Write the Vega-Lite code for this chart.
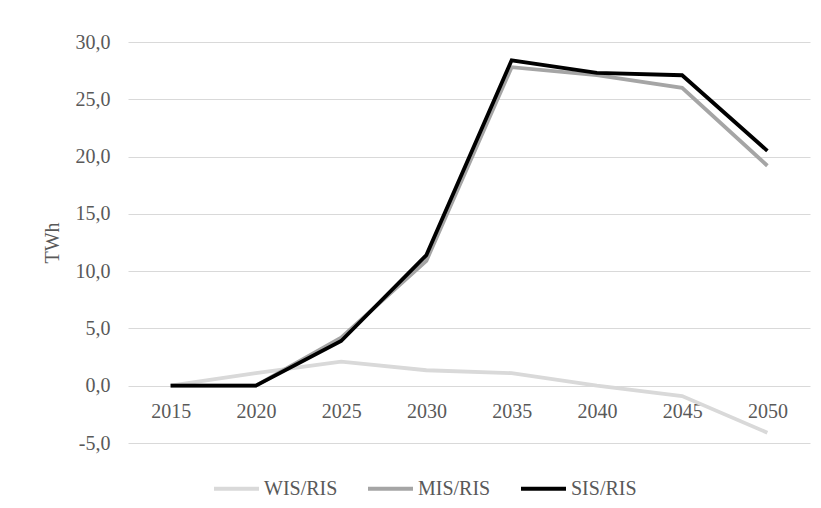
{
  "$schema": "https://vega.github.io/schema/vega-lite/v6.json",
  "width": 682,
  "height": 401,
  "autosize": {"type": "none"},
  "padding": {"left": 128, "top": 42, "right": 11, "bottom": 65},
  "background": "white",
  "data": {
    "values": [
      {"year": "2015", "series": "WIS/RIS", "value": 0},
      {"year": "2020", "series": "WIS/RIS", "value": 1.1},
      {"year": "2025", "series": "WIS/RIS", "value": 2.1},
      {"year": "2030", "series": "WIS/RIS", "value": 1.35},
      {"year": "2035", "series": "WIS/RIS", "value": 1.1},
      {"year": "2040", "series": "WIS/RIS", "value": 0.0},
      {"year": "2045", "series": "WIS/RIS", "value": -0.9},
      {"year": "2050", "series": "WIS/RIS", "value": -4.1},
      {"year": "2015", "series": "MIS/RIS", "value": 0},
      {"year": "2020", "series": "MIS/RIS", "value": 0},
      {"year": "2025", "series": "MIS/RIS", "value": 4.2},
      {"year": "2030", "series": "MIS/RIS", "value": 10.9},
      {"year": "2035", "series": "MIS/RIS", "value": 27.8},
      {"year": "2040", "series": "MIS/RIS", "value": 27.1},
      {"year": "2045", "series": "MIS/RIS", "value": 26.0},
      {"year": "2050", "series": "MIS/RIS", "value": 19.2},
      {"year": "2015", "series": "SIS/RIS", "value": 0},
      {"year": "2020", "series": "SIS/RIS", "value": 0},
      {"year": "2025", "series": "SIS/RIS", "value": 3.9},
      {"year": "2030", "series": "SIS/RIS", "value": 11.4},
      {"year": "2035", "series": "SIS/RIS", "value": 28.4},
      {"year": "2040", "series": "SIS/RIS", "value": 27.3},
      {"year": "2045", "series": "SIS/RIS", "value": 27.1},
      {"year": "2050", "series": "SIS/RIS", "value": 20.5}
    ]
  },
  "mark": {"type": "line", "strokeWidth": 3.8, "strokeJoin": "miter"},
  "encoding": {
    "x": {
      "field": "year",
      "type": "ordinal",
      "scale": {"paddingInner": 0, "paddingOuter": 0.5},
      "axis": {
        "title": null,
        "labelAngle": 0,
        "domain": false,
        "ticks": false,
        "grid": false,
        "offset": -57,
        "labelPadding": 15,
        "labelFont": "Times New Roman, Liberation Serif, serif",
        "labelFontSize": 20,
        "labelColor": "#595959"
      }
    },
    "y": {
      "field": "value",
      "type": "quantitative",
      "scale": {"domain": [-5, 30], "nice": false, "zero": false},
      "axis": {
        "title": "TWh",
        "titleFont": "Times New Roman, Liberation Serif, serif",
        "titleFontSize": 20,
        "titleFontWeight": "normal",
        "titleColor": "#595959",
        "titlePadding": 13,
        "values": [-5, 0, 5, 10, 15, 20, 25, 30],
        "labelExpr": "replace(replace(format(datum.value, '.1f'), '.', ','), '\u2212', '-')",
        "domain": false,
        "ticks": false,
        "labelPadding": 18,
        "labelFont": "Times New Roman, Liberation Serif, serif",
        "labelFontSize": 20,
        "labelColor": "#595959",
        "gridColor": "#d9d9d9",
        "gridWidth": 1
      }
    },
    "color": {
      "field": "series",
      "type": "nominal",
      "sort": ["WIS/RIS", "MIS/RIS", "SIS/RIS"],
      "scale": {"domain": ["WIS/RIS", "MIS/RIS", "SIS/RIS"], "range": ["#d9d9d9", "#a5a5a5", "#000000"]},
      "legend": {
        "title": null,
        "orient": "none",
        "legendX": 84,
        "legendY": 422,
        "direction": "horizontal",
        "symbolType": "stroke",
        "symbolSize": 2025,
        "symbolStrokeWidth": 4,
        "labelFont": "Times New Roman, Liberation Serif, serif",
        "labelFontSize": 20,
        "labelColor": "#595959",
        "columnPadding": 22,
        "labelOffset": 3
      }
    }
  },
  "config": {
    "view": {"stroke": null},
    "axis": {"gridColor": "#d9d9d9"}
  }
}
